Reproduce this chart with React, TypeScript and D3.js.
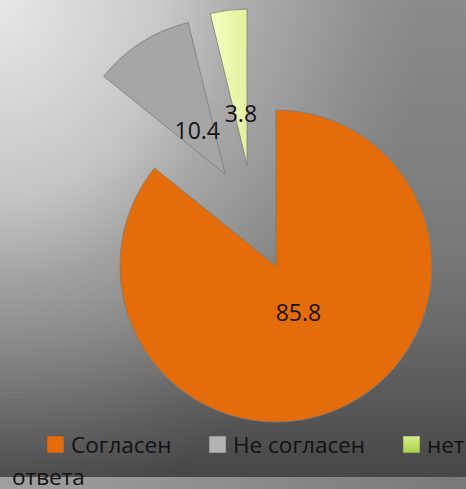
import { useEffect, useRef } from "react";
import * as d3 from "d3";

// chart data
const categories = ["Согласен", "Не согласен", "нет ответа"];
const values = [85.8, 10.4, 3.8];
const labels = ["85.8", "10.4", "3.8"];
const colors = ["#e46c0a", "#a6a6a6", "#eef7b0"];

// exploded slices: direction (deg, clockwise from top) and distance
const explodeDir = [0, 331, 344];
const explodeDist = [0, 105, 105];

const W = 466;
const H = 489;

const App = () => {
  const svgRef = useRef<SVGSVGElement>(null);

  useEffect(() => {
    document.body.style.margin = "0";
    const svg = d3.select(svgRef.current);
    svg.selectAll("*").remove();

    const defs = svg.append("defs");

    // base: vertical grey fade
    const bg = defs
      .append("linearGradient")
      .attr("id", "bg")
      .attr("x1", "0%")
      .attr("y1", "0%")
      .attr("x2", "0%")
      .attr("y2", "100%");
    [
      [0, "#8a8a8a"],
      [0.33, "#808080"],
      [0.51, "#787878"],
      [0.67, "#6a6a6a"],
      [0.82, "#585858"],
      [0.96, "#484848"],
      [1, "#464646"],
    ].forEach(([o, c]) =>
      bg.append("stop").attr("offset", o as number).attr("stop-color", c as string)
    );

    // light glow from the top-left corner
    const glow = defs
      .append("radialGradient")
      .attr("id", "glow")
      .attr("gradientUnits", "userSpaceOnUse")
      .attr("cx", 0)
      .attr("cy", 0)
      .attr("r", 520)
      .attr("gradientTransform", "scale(0.808,1)");
    [
      [0, 0.79],
      [0.38, 0.55],
      [0.55, 0.32],
      [0.65, 0.24],
      [0.88, 0.06],
      [1, 0],
    ].forEach(([o, a]) =>
      glow
        .append("stop")
        .attr("offset", o)
        .attr("stop-color", "#ffffff")
        .attr("stop-opacity", a)
    );

    const band = defs
      .append("linearGradient")
      .attr("id", "band")
      .attr("x1", "0%")
      .attr("x2", "100%");
    band.append("stop").attr("offset", "0%").attr("stop-color", "#a0a0a0");
    band.append("stop").attr("offset", "100%").attr("stop-color", "#787878");

    const greenGrad = defs
      .append("linearGradient")
      .attr("id", "green")
      .attr("x1", "0%")
      .attr("x2", "100%")
      .attr("y1", "0%")
      .attr("y2", "0%");
    greenGrad.append("stop").attr("offset", "0%").attr("stop-color", "#f4ffc0");
    greenGrad.append("stop").attr("offset", "100%").attr("stop-color", "#e4f0a0");

    const legGreen = defs
      .append("linearGradient")
      .attr("id", "legGreen")
      .attr("x1", "0%")
      .attr("x2", "0%")
      .attr("y1", "0%")
      .attr("y2", "100%");
    legGreen.append("stop").attr("offset", "0%").attr("stop-color", "#d6ef8e");
    legGreen.append("stop").attr("offset", "100%").attr("stop-color", "#a9cf45");

    svg.append("rect").attr("width", W).attr("height", H).attr("fill", "url(#bg)");
    svg.append("rect").attr("width", W).attr("height", H).attr("fill", "url(#glow)");
    svg
      .append("rect")
      .attr("y", 477)
      .attr("width", W)
      .attr("height", H - 477)
      .attr("fill", "url(#band)");

    const cx = 276;
    const cy = 266;
    const radius = 156;

    const pie = d3
      .pie<number>()
      .sort(null)
      .value((d) => d);
    const arcs = pie(values);

    const arc = d3.arc<d3.PieArcDatum<number>>().innerRadius(0).outerRadius(radius);
    const labelArc = d3
      .arc<d3.PieArcDatum<number>>()
      .innerRadius(104)
      .outerRadius(0);

    const fills = [colors[0], colors[1], "url(#green)"];

    const g = svg.append("g").attr("transform", `translate(${cx},${cy})`);

    const slices = g
      .selectAll(".slice")
      .data(arcs)
      .enter()
      .append("g")
      .attr("class", "slice")
      .attr("transform", (d, i) => {
        const a = (explodeDir[i] * Math.PI) / 180;
        const dx = Math.sin(a) * explodeDist[i];
        const dy = -Math.cos(a) * explodeDist[i];
        return `translate(${dx},${dy})`;
      });

    slices
      .append("path")
      .attr("d", arc)
      .attr("fill", (d, i) => fills[i])
      .attr("stroke", "#7a7a7a")
      .attr("stroke-width", 0.8);

    slices
      .append("text")
      .attr("transform", (d) => `translate(${labelArc.centroid(d)})`)
      .attr("text-anchor", "middle")
      .attr("dy", "0.36em")
      .style("font-family", "'Open Sans', sans-serif")
      .style("font-size", "23px")
      .style("fill", "#151515")
      .text((d, i) => labels[i]);

    // legend
    const legendX = [47, 209, 403];
    const legendFills = [colors[0], "#b3b3b3", "url(#legGreen)"];
    const legend = svg
      .selectAll(".legend-item")
      .data(categories)
      .enter()
      .append("g")
      .attr("class", "legend-item")
      .attr("transform", (d, i) => `translate(${legendX[i]},436)`);

    legend
      .append("rect")
      .attr("width", 17)
      .attr("height", 17)
      .attr("fill", (d, i) => legendFills[i])
      .attr("stroke", "#5a5a5a")
      .attr("stroke-width", 0.6);

    const legText = legend
      .append("text")
      .attr("x", 24)
      .attr("y", 17)
      .style("font-family", "'Open Sans', sans-serif")
      .style("font-size", "22.5px")
      .style("fill", "#111");

    legText.each(function (d, i) {
      const t = d3.select(this);
      if (i === 2) {
        const parts = d.split(" ");
        t.append("tspan").text(parts[0]);
        t.append("tspan")
          .attr("x", 12 - legendX[i])
          .attr("dy", 32)
          .text(parts[1]);
      } else {
        t.text(d);
      }
    });
  }, []);

  return <svg ref={svgRef} width={W} height={H} style={{ display: "block" }}></svg>;
};

export default App;
